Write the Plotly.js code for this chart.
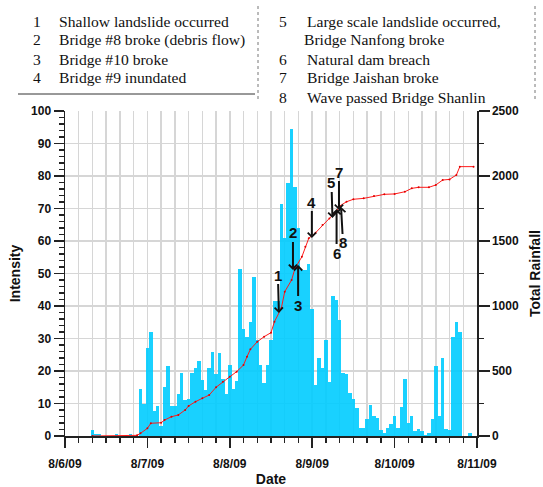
<!DOCTYPE html>
<html>
<head>
<meta charset="utf-8">
<script src="https://cdn.plot.ly/plotly-3.0.1.min.js"></script>
<style>
  html, body { margin: 0; padding: 0; background: #fff; }
  #chart { width: 543px; height: 487px; }
</style>
</head>
<body>
<div id="chart"></div>
<script>
// Hourly rainfall intensity (mm/hr), one value per hour starting 8/6/09 00:00
const intensity = [
  0, 0, 0, 0, 0, 0, 0, 0, 2, 0.7, 0.7, 0, 0, 0, 0, 0.5, 0, 0, 0, 0.5, 0, 0, 14.4, 9.8,
  27, 32, 7.7, 9.2, 3.2, 15.2, 21.6, 9.2, 9.2, 12.9, 19.5, 11, 11.4, 19.5, 21, 23, 17.3, 14.2, 21, 26, 19, 25.5, 17.4, 12.9,
  21.8, 14.5, 17, 51.3, 32.8, 30.4, 35, 49, 29.5, 21.8, 16.4, 21.8, 29.5, 41.5, 41.5, 71.4, 61, 78, 94.4, 76.5, 64, 51, 51, 53,
  39, 15.7, 24, 20.8, 29.5, 16.7, 43, 41.8, 35.7, 19.5, 19, 13.1, 11.4, 8.5, 2.4, 2.5, 5.2, 9.5, 6.2, 5.4, 2, 0.8, 2.6, 3.7,
  6.2, 2.4, 9, 17.4, 4.1, 6.2, 1.5, 2.2, 1.5, 0.3, 0.9, 5.2, 21.5, 6.2, 23.9, 2.2, 1.8, 30.6, 35, 32, 0, 0, 0.8, 0
];

// Cumulative rainfall (mm): hours after 8/6/09 00:00 and running total
const totalHours = [8, 21, 22, 24, 25, 28, 29, 31, 33, 35, 36, 38, 40, 42, 44, 46, 48, 50, 52, 53, 54, 56, 58, 60,
  61, 63, 64, 66, 67, 69, 70, 71, 73, 75, 77, 79, 80, 82, 84, 87, 90, 93, 96, 99, 101, 103, 106, 108, 110, 112, 114, 115, 119];
const totalRain = [0, 5, 21, 59, 98, 102, 123, 148, 162, 200, 231, 264, 290, 315, 375, 418, 456, 495, 546, 610, 667, 725, 764, 795,
  879, 982, 1110, 1200, 1290, 1379, 1456, 1521, 1564, 1623, 1674, 1725, 1769, 1802, 1821, 1828, 1846, 1859, 1862, 1879, 1905, 1913, 1913, 1931, 1969, 1974, 2008, 2072, 2072];

// Numbered events marked on the cumulative curve
const eventLabels = ['1', '2', '3', '4', '5', '6', '7', '8'];
const eventHours  = [62.3, 66.4, 67.9, 71.9, 77.9, 79.1, 79.8, 80.4];
const eventTotals = [946, 1277, 1315, 1523, 1677, 1746, 1738, 1762];
const eventLabelOffsetY = [-38, -37, 40, -36, -35, 44, -38, 36];
const eventLabelOffsetX = [-1, 0, 0, 0, -1, 0, 0, 2];

// Event descriptions shown in the key above the chart
const keyLeft = [
  ['1', 'Shallow landslide occurred'],
  ['2', 'Bridge #8 broke (debris flow)'],
  ['3', 'Bridge #10 broke'],
  ['4', 'Bridge #9 inundated']
];
const keyRight = [
  ['5', 'Large scale landslide occurred,'],
  ['', 'Bridge Nanfong broke'],
  ['6', 'Natural dam breach'],
  ['7', 'Bridge Jaishan broke'],
  ['8', 'Wave passed Bridge Shanlin']
];

const HOUR = 3600000;
const T0 = Date.UTC(2009, 7, 6);
function hourToDate(h) {
  return new Date(T0 + h * HOUR).toISOString().slice(0, 19).replace('T', ' ');
}

const W = 543, H = 487;
const M = { l: 65, r: 66, t: 111, b: 51 };
const plotW = W - M.l - M.r, plotH = H - M.t - M.b;
const px = x => (x - M.l) / plotW;
const py = y => (H - M.b - y) / plotH;

const axisColor = '#222';
const gridColor = '#d6d6d6';
const tickFont = { family: 'Arial, Liberation Sans, sans-serif', size: 12, color: '#111', weight: 'bold' };
const titleFont = { family: 'Arial, Liberation Sans, sans-serif', size: 14, color: '#111', weight: 'bold' };
const keyFont = { family: 'Liberation Serif, serif', size: 15.6, color: '#111' };

const bars = {
  type: 'bar',
  x: intensity.map((_, i) => hourToDate(i)),
  y: intensity,
  width: HOUR,
  marker: { color: 'rgba(0,204,255,0.9)', line: { width: 0 } },
  hoverinfo: 'skip',
  showlegend: false
};

const total = {
  type: 'scatter',
  mode: 'lines+markers',
  x: totalHours.map(hourToDate),
  y: totalRain,
  yaxis: 'y2',
  line: { color: '#ff1a1a', width: 1 },
  marker: { color: '#e00000', size: 2 },
  hoverinfo: 'skip',
  showlegend: false
};

const annotations = [];

eventLabels.forEach((lab, i) => {
  annotations.push({
    x: hourToDate(eventHours[i]), y: eventTotals[i], xref: 'x', yref: 'y2',
    text: '<b>' + lab + '</b>',
    font: { family: 'Arial, Liberation Sans, sans-serif', size: 15, color: '#111' },
    showarrow: true, arrowhead: 4, arrowsize: 0.8, arrowwidth: 2, arrowcolor: '#111',
    ax: eventLabelOffsetX[i], ay: eventLabelOffsetY[i], standoff: 0, borderpad: 0
  });
});

const rowY = [21, 40, 59, 78, 97];
keyLeft.forEach((row, i) => {
  annotations.push({ xref: 'paper', yref: 'paper', x: px(37), y: py(rowY[i]), text: row[0],
    showarrow: false, xanchor: 'center', yanchor: 'middle', font: keyFont });
  annotations.push({ xref: 'paper', yref: 'paper', x: px(57), y: py(rowY[i]), text: row[1],
    showarrow: false, xanchor: 'left', yanchor: 'middle', font: keyFont });
});
keyRight.forEach((row, i) => {
  if (row[0]) {
    annotations.push({ xref: 'paper', yref: 'paper', x: px(283), y: py(rowY[i]), text: row[0],
      showarrow: false, xanchor: 'center', yanchor: 'middle', font: keyFont });
  }
  annotations.push({ xref: 'paper', yref: 'paper', x: px(row[0] ? 305 : 302), y: py(rowY[i]), text: row[1],
    showarrow: false, xanchor: 'left', yanchor: 'middle', font: keyFont });
});

const shapes = [
  { type: 'line', xref: 'paper', yref: 'paper', x0: px(18), x1: px(255), y0: py(94), y1: py(94),
    line: { color: '#333', width: 1 } },
  { type: 'line', xref: 'paper', yref: 'paper', x0: px(258), x1: px(258), y0: py(6), y1: py(100),
    line: { color: '#777', width: 1, dash: 'dot' } },
  { type: 'line', xref: 'paper', yref: 'paper', x0: px(535), x1: px(535), y0: py(6), y1: py(100),
    line: { color: '#777', width: 1, dash: 'dot' } }
];

const layout = {
  width: W, height: H,
  margin: M,
  paper_bgcolor: '#fff', plot_bgcolor: '#fff',
  bargap: 0,
  showlegend: false,
  xaxis: {
    type: 'date',
    range: [hourToDate(0), hourToDate(120)],
    tick0: hourToDate(0), dtick: 24 * HOUR,
    tickformat: '%-m/%-d/%y',
    ticks: 'outside', ticklen: 10, tickwidth: 1.5, tickcolor: axisColor,
    ticklabelstandoff: 6,
    showline: true, linecolor: axisColor, linewidth: 1.5,
    showgrid: true, gridcolor: gridColor, gridwidth: 1.5,
    zeroline: false,
    minor: { dtick: 4 * HOUR, ticks: 'outside', ticklen: 5, tickwidth: 1.5, tickcolor: axisColor,
             showgrid: true, gridcolor: gridColor, gridwidth: 1.5 },
    tickfont: tickFont,
    title: { text: 'Date', font: titleFont, standoff: 8 },
    fixedrange: true
  },
  yaxis: {
    range: [0, 100], dtick: 10,
    ticks: 'outside', ticklen: 10, tickwidth: 1.5, tickcolor: axisColor,
    showline: true, linecolor: axisColor, linewidth: 1.5,
    showgrid: true, gridcolor: gridColor, gridwidth: 1.5,
    zeroline: false,
    minor: { dtick: 2, ticks: 'outside', ticklen: 5, tickwidth: 1.5, tickcolor: axisColor, showgrid: false },
    tickfont: tickFont,
    title: { text: 'Intensity', font: titleFont, standoff: 7 },
    fixedrange: true
  },
  yaxis2: {
    overlaying: 'y', side: 'right',
    range: [0, 2500], dtick: 500,
    ticks: 'outside', ticklen: 11, tickwidth: 1.5, tickcolor: axisColor,
    showline: true, linecolor: axisColor, linewidth: 1.5,
    showgrid: false, zeroline: false,
    minor: { dtick: 250, ticks: 'outside', ticklen: 5, tickwidth: 1.5, tickcolor: axisColor },
    tickfont: tickFont,
    title: { text: 'Total Rainfall', font: titleFont, standoff: 14 },
    fixedrange: true
  },
  annotations: annotations,
  shapes: shapes
};

Plotly.newPlot('chart', [bars, total], layout, { displayModeBar: false, staticPlot: true });
</script>
</body>
</html>
